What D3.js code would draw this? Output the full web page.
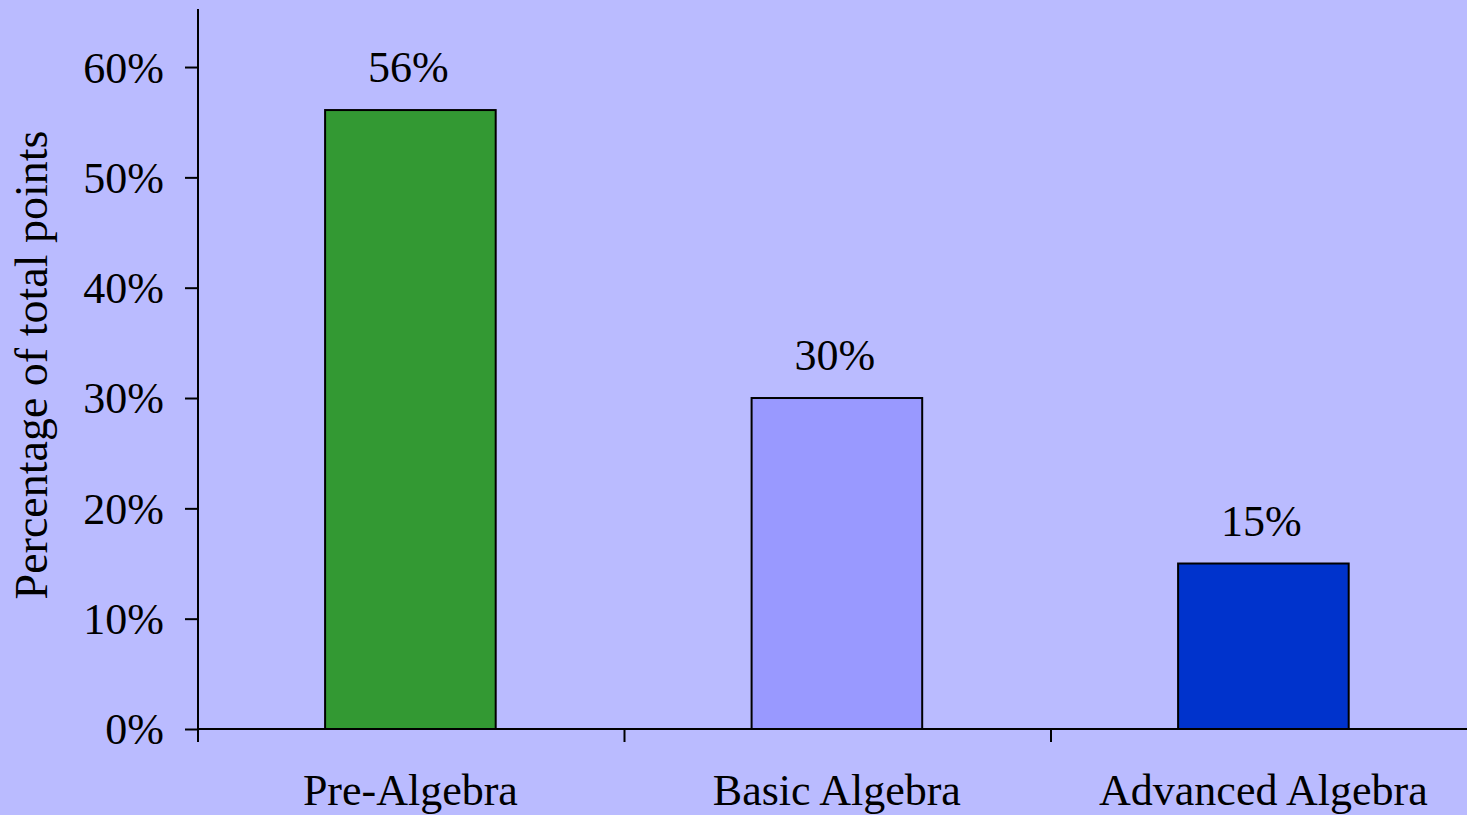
<!DOCTYPE html>
<html>
<head>
<meta charset="utf-8">
<script src="https://cdn.jsdelivr.net/npm/d3@7"></script>
<style>
  html, body { margin: 0; padding: 0; background: #babbff; overflow: hidden; }
  svg { display: block; }
  text { font-family: "Liberation Serif", "Times New Roman", serif; fill: #000; }
</style>
</head>
<body>
<svg id="chart" width="1467" height="815"></svg>
<script>
const categories = ["Pre-Algebra", "Basic Algebra", "Advanced Algebra"];
const values = [0.561, 0.30, 0.15];
const valueLabels = ["56%", "30%", "15%"];
const barColors = ["#339933", "#9999ff", "#0033cc"];
const yTicks = [0, 0.1, 0.2, 0.3, 0.4, 0.5, 0.6];

const svg = d3.select("#chart");
const W = 1467, H = 815;
svg.append("rect").attr("width", W).attr("height", H).attr("fill", "#babbff");

const x0 = 198, step = 426.5;
const yMax = 0.6526;
const x = d3.scaleBand().domain(categories).range([x0, x0 + step * categories.length]).padding(0);
const y = d3.scaleLinear().domain([0, yMax]).range([729, 9]);

// Bars
const barW = x.bandwidth() * 0.4;
svg.selectAll("rect.bar").data(categories).enter().append("rect")
  .attr("class", "bar")
  .attr("x", (d) => x(d) + x.bandwidth() * 0.298)
  .attr("y", (d, i) => y(values[i]))
  .attr("width", barW)
  .attr("height", (d, i) => y(0) - y(values[i]))
  .attr("fill", (d, i) => barColors[i])
  .attr("stroke", "#000")
  .attr("stroke-width", 2);

// Value labels
svg.selectAll("text.val").data(categories).enter().append("text")
  .attr("class", "val")
  .attr("x", (d) => x(d) + x.bandwidth() * 0.298 + barW / 2 - 2)
  .attr("y", (d, i) => y(values[i]) - 28)
  .attr("text-anchor", "middle")
  .attr("font-size", 44)
  .text((d, i) => valueLabels[i]);

// Y axis
const yAxis = d3.axisLeft(y).tickValues(yTicks).tickFormat(d3.format(".0%")).tickSize(13).tickPadding(21);
const gy = svg.append("g").attr("transform", `translate(${x0},0)`).call(yAxis);
gy.select(".domain").attr("d", `M0,${y(yMax)}V${y(0)}`).attr("stroke", "#000").attr("stroke-width", 2);
gy.selectAll(".tick line").attr("stroke", "#000").attr("stroke-width", 2);
gy.selectAll(".tick text").attr("font-size", 44).attr("font-family", "Liberation Serif, Times New Roman, serif").attr("dy", "0.34em");

// X axis
const xAxis = d3.axisBottom(x).tickSize(0).tickFormat("");
const gx = svg.append("g").attr("transform", `translate(0,${y(0)})`).call(xAxis);
gx.select(".domain").attr("d", `M${x0},0H${W}`).attr("stroke", "#000").attr("stroke-width", 2);
gx.selectAll(".tick").remove();
gx.selectAll("line.bt").data(categories).enter().append("line")
  .attr("class", "bt")
  .attr("x1", (d) => x(d)).attr("x2", (d) => x(d))
  .attr("y1", 0).attr("y2", 13)
  .attr("stroke", "#000").attr("stroke-width", 2);

// Category labels
svg.selectAll("text.cat").data(categories).enter().append("text")
  .attr("class", "cat")
  .attr("x", (d) => x(d) + x.bandwidth() * 0.298 + barW / 2)
  .attr("y", 805)
  .attr("text-anchor", "middle")
  .attr("font-size", 44)
  .text((d) => d);

// Y title
svg.append("text")
  .attr("transform", "translate(47,365) rotate(-90)")
  .attr("text-anchor", "middle")
  .attr("font-size", 46)
  .text("Percentage of total points");
</script>
</body>
</html>
